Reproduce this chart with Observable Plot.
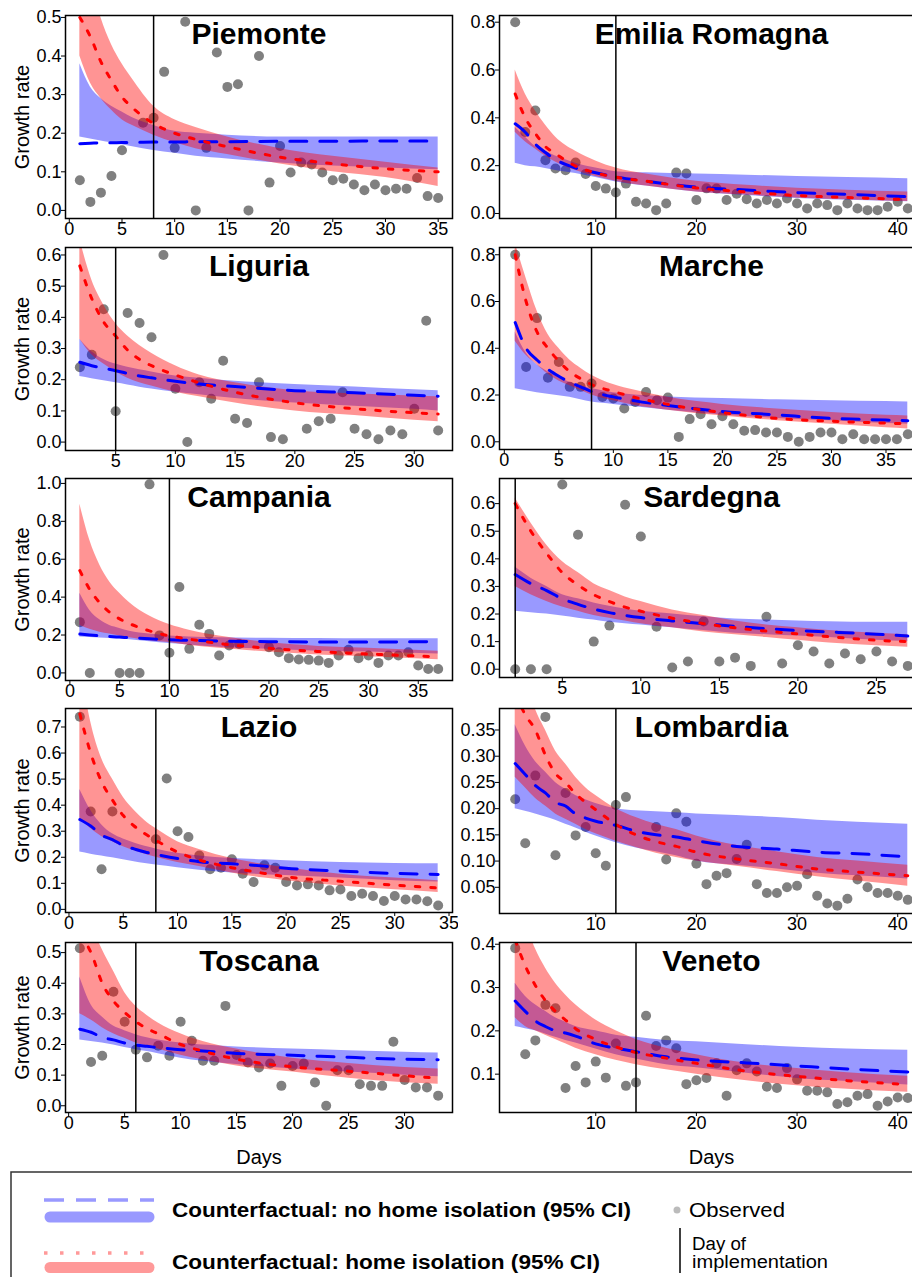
<!DOCTYPE html>
<html><head><meta charset="utf-8">
<script src="https://cdn.jsdelivr.net/npm/d3@7"></script>
<script src="https://cdn.jsdelivr.net/npm/@observablehq/plot@0.6"></script>
<style>
body{margin:0;background:#fff;}
#wrap{position:relative;width:912px;height:1277px;overflow:hidden;background:#fff;font-family:"Liberation Sans",Arial,sans-serif;}
#wrap > div{position:absolute;}
#wrap svg{max-width:none !important;}
</style></head><body><div id="wrap"></div><script>
// ---------------- DATA ----------------
// Piemonte
const piemonteObsDays = [1,2,3,4,5,7,8,9,10,11,12,13,14,15,16,17,18,19,20,21,22,23,24,25,26,27,28,29,30,31,32,33,34,35];
const piemonteObserved = [0.078,0.022,0.046,0.089,0.156,0.227,0.24,0.359,0.162,0.489,0.0,0.162,0.409,0.32,0.327,0.0,0.40,0.072,0.167,0.098,0.124,0.119,0.098,0.078,0.082,0.067,0.052,0.067,0.052,0.056,0.056,0.084,0.037,0.032];
const piemonteFitDays = [1,2,3,4,5,6,8,10,12,15,20,25,30,35];
const piemonteNoIso = [0.173,0.174,0.175,0.175,0.176,0.176,0.177,0.177,0.178,0.178,0.179,0.179,0.18,0.18];
const piemonteNoIsoLow = [0.19,0.185,0.18,0.175,0.17,0.165,0.155,0.148,0.14,0.133,0.123,0.115,0.11,0.105];
const piemonteNoIsoHigh = [0.38,0.32,0.29,0.27,0.255,0.24,0.22,0.205,0.2,0.195,0.19,0.19,0.19,0.19];
const piemonteIso = [0.5,0.45,0.385,0.337,0.294,0.266,0.225,0.2,0.184,0.165,0.138,0.121,0.108,0.1];
const piemonteIsoLow = [0.40,0.33,0.29,0.26,0.235,0.22,0.195,0.175,0.16,0.145,0.12,0.1,0.085,0.062];
const piemonteIsoHigh = [0.75,0.6,0.5,0.43,0.38,0.34,0.27,0.235,0.215,0.19,0.16,0.14,0.125,0.11];
const piemonteImpl = 8;
const piemonteXTicks = [0,5,10,15,20,25,30,35];
const piemonteYTicks = [0,0.1,0.2,0.3,0.4,0.5];

// Emilia Romagna
const emiliaObsDays = [2,3,4,5,6,7,8,9,10,11,12,13,14,15,16,17,18,19,20,21,22,23,24,25,26,27,28,29,30,31,32,33,34,35,36,37,38,39,40,41];
const emiliaObserved = [0.80,0.341,0.431,0.223,0.188,0.181,0.213,0.165,0.115,0.104,0.088,0.125,0.049,0.042,0.014,0.042,0.171,0.167,0.056,0.105,0.104,0.056,0.083,0.06,0.042,0.056,0.042,0.063,0.042,0.021,0.042,0.035,0.014,0.042,0.021,0.014,0.014,0.028,0.049,0.021];
const emiliaFitDays = [2,3,4,5,6,7,8,10,12,15,20,25,30,35,41];
const emiliaNoIso = [0.375,0.34,0.29,0.255,0.225,0.205,0.19,0.17,0.153,0.135,0.11,0.098,0.087,0.08,0.07];
const emiliaNoIsoLow = [0.21,0.2,0.195,0.188,0.18,0.173,0.167,0.15,0.132,0.115,0.09,0.075,0.063,0.055,0.049];
const emiliaNoIsoHigh = [0.36,0.32,0.28,0.26,0.24,0.225,0.21,0.19,0.175,0.17,0.165,0.16,0.155,0.15,0.145];
const emiliaIso = [0.5,0.4,0.335,0.28,0.25,0.222,0.198,0.17,0.152,0.135,0.107,0.09,0.075,0.067,0.058];
const emiliaIsoLow = [0.34,0.3,0.27,0.24,0.215,0.195,0.18,0.155,0.135,0.115,0.09,0.077,0.065,0.057,0.05];
const emiliaIsoHigh = [0.6,0.5,0.43,0.37,0.32,0.285,0.26,0.22,0.19,0.165,0.135,0.118,0.105,0.097,0.09];
const emiliaImpl = 12;
const emiliaXTicks = [10,20,30,40];
const emiliaYTicks = [0,0.2,0.4,0.6,0.8];

// Liguria
const liguriaObsDays = [2,3,4,5,6,7,8,9,10,11,12,13,14,15,16,17,18,19,21,22,23,24,25,26,27,28,29,30,31,32];
const liguriaObserved = [0.24,0.28,0.426,0.099,0.414,0.382,0.336,0.6,0.171,0.0,0.192,0.139,0.261,0.075,0.061,0.192,0.016,0.009,0.043,0.067,0.075,0.16,0.043,0.025,0.009,0.037,0.025,0.107,0.389,0.037];
const liguriaFitDays = [2,3,4,5,6,7,8,10,12,15,20,25,30,32];
const liguriaNoIso = [0.256,0.245,0.237,0.229,0.22,0.212,0.206,0.195,0.186,0.178,0.165,0.158,0.15,0.147];
const liguriaNoIsoLow = [0.21,0.203,0.197,0.19,0.183,0.176,0.17,0.16,0.152,0.14,0.125,0.115,0.105,0.1];
const liguriaNoIsoHigh = [0.33,0.29,0.265,0.25,0.24,0.232,0.225,0.212,0.205,0.195,0.185,0.177,0.168,0.165];
const liguriaIso = [0.565,0.46,0.385,0.34,0.295,0.265,0.245,0.215,0.19,0.16,0.126,0.107,0.094,0.09];
const liguriaIsoLow = [0.33,0.28,0.25,0.225,0.205,0.19,0.18,0.16,0.145,0.125,0.1,0.085,0.07,0.065];
const liguriaIsoHigh = [0.65,0.52,0.44,0.38,0.34,0.31,0.285,0.245,0.215,0.19,0.165,0.155,0.148,0.145];
const liguriaImpl = 5;
const liguriaXTicks = [5,10,15,20,25,30];
const liguriaYTicks = [0,0.1,0.2,0.3,0.4,0.5,0.6];

// Marche
const marcheObsDays = [1,2,3,4,5,6,7,8,9,10,11,12,13,14,15,16,17,18,19,20,21,22,23,24,25,26,27,28,29,30,31,32,33,34,35,36,37];
const marcheObserved = [0.80,0.32,0.529,0.274,0.341,0.235,0.235,0.249,0.192,0.185,0.142,0.17,0.213,0.178,0.189,0.021,0.097,0.118,0.075,0.109,0.075,0.047,0.05,0.04,0.04,0.021,0.0,0.021,0.04,0.04,0.011,0.032,0.011,0.011,0.011,0.011,0.032];
const marcheFitDays = [1,2,3,4,5,6,7,8,10,12,15,20,25,30,35,37];
const marcheNoIso = [0.51,0.4,0.35,0.31,0.28,0.255,0.235,0.215,0.192,0.175,0.155,0.13,0.115,0.1,0.093,0.09];
const marcheNoIsoLow = [0.227,0.218,0.21,0.203,0.197,0.19,0.18,0.17,0.16,0.15,0.135,0.115,0.1,0.09,0.078,0.075];
const marcheNoIsoHigh = [0.47,0.38,0.33,0.3,0.275,0.255,0.24,0.228,0.21,0.2,0.192,0.185,0.18,0.176,0.172,0.17];
const marcheIso = [0.8,0.6,0.47,0.4,0.345,0.3,0.27,0.245,0.215,0.19,0.16,0.125,0.1,0.088,0.08,0.077];
const marcheIsoLow = [0.43,0.37,0.33,0.29,0.26,0.24,0.22,0.2,0.175,0.155,0.135,0.11,0.09,0.075,0.06,0.055];
const marcheIsoHigh = [0.85,0.7,0.56,0.46,0.4,0.35,0.315,0.285,0.245,0.22,0.19,0.16,0.14,0.125,0.113,0.11];
const marcheImpl = 8;
const marcheXTicks = [0,5,10,15,20,25,30,35];
const marcheYTicks = [0,0.2,0.4,0.6,0.8];

// Campania
const campaniaObsDays = [1,2,5,6,7,8,9,10,11,12,13,14,15,16,17,20,21,22,23,24,25,26,27,28,29,30,31,32,33,34,35,36,37];
const campaniaObserved = [0.268,0.0,0.0,0.0,0.0,0.995,0.198,0.106,0.453,0.127,0.254,0.206,0.092,0.145,0.153,0.136,0.109,0.078,0.071,0.069,0.065,0.053,0.092,0.122,0.078,0.092,0.053,0.092,0.092,0.109,0.039,0.021,0.021];
const campaniaFitDays = [1,2,3,4,5,6,8,10,12,15,20,25,30,37];
const campaniaNoIso = [0.205,0.2,0.196,0.192,0.189,0.186,0.18,0.175,0.172,0.168,0.165,0.163,0.163,0.165];
const campaniaNoIsoLow = [0.19,0.187,0.184,0.182,0.18,0.175,0.165,0.155,0.147,0.135,0.125,0.115,0.11,0.1];
const campaniaNoIsoHigh = [0.42,0.33,0.28,0.25,0.235,0.22,0.205,0.195,0.19,0.185,0.183,0.181,0.18,0.18];
const campaniaIso = [0.54,0.44,0.37,0.32,0.285,0.26,0.222,0.195,0.178,0.155,0.13,0.113,0.1,0.085];
const campaniaIsoLow = [0.25,0.23,0.215,0.205,0.195,0.185,0.17,0.16,0.145,0.13,0.11,0.095,0.085,0.07];
const campaniaIsoHigh = [0.89,0.7,0.57,0.48,0.42,0.37,0.3,0.255,0.225,0.195,0.16,0.14,0.13,0.115];
const campaniaImpl = 10;
const campaniaXTicks = [0,5,10,15,20,25,30,35];
const campaniaYTicks = [0,0.2,0.4,0.6,0.8,1.0];

// Sardegna
const sardegnaObsDays = [2,3,4,5,6,7,8,9,10,11,12,13,14,15,16,17,18,19,20,21,22,23,24,25,26,27];
const sardegnaObserved = [0.0,0.0,0.0,0.669,0.487,0.1,0.158,0.596,0.481,0.154,0.006,0.028,0.173,0.028,0.042,0.012,0.19,0.021,0.087,0.064,0.021,0.057,0.036,0.064,0.028,0.012];
const sardegnaFitDays = [2,3,4,5,6,7,8,9,10,12,14,16,18,20,22,25,27];
const sardegnaNoIso = [0.343,0.31,0.285,0.255,0.235,0.218,0.205,0.195,0.187,0.175,0.165,0.155,0.147,0.14,0.135,0.127,0.12];
const sardegnaNoIsoLow = [0.21,0.205,0.2,0.193,0.185,0.178,0.17,0.165,0.16,0.15,0.14,0.13,0.125,0.12,0.115,0.105,0.1];
const sardegnaNoIsoHigh = [0.37,0.33,0.3,0.27,0.255,0.24,0.228,0.218,0.21,0.2,0.19,0.182,0.178,0.175,0.172,0.17,0.17];
const sardegnaIso = [0.6,0.5,0.42,0.35,0.305,0.27,0.245,0.225,0.21,0.185,0.165,0.15,0.138,0.128,0.118,0.105,0.1];
const sardegnaIsoLow = [0.3,0.27,0.245,0.225,0.21,0.195,0.185,0.175,0.165,0.15,0.135,0.125,0.115,0.105,0.095,0.085,0.08];
const sardegnaIsoHigh = [0.62,0.53,0.45,0.39,0.35,0.31,0.285,0.262,0.245,0.215,0.195,0.175,0.16,0.15,0.14,0.13,0.125];
const sardegnaImpl = 2;
const sardegnaXTicks = [5,10,15,20,25];
const sardegnaYTicks = [0,0.1,0.2,0.3,0.4,0.5,0.6];

// Lazio
const lazioObsDays = [1,2,3,4,8,9,10,11,12,13,14,15,16,17,18,19,20,21,22,23,24,25,26,27,28,29,30,31,32,33,34];
const lazioObserved = [0.739,0.376,0.154,0.376,0.269,0.502,0.3,0.278,0.207,0.154,0.16,0.192,0.137,0.105,0.169,0.16,0.105,0.092,0.096,0.092,0.073,0.076,0.051,0.06,0.051,0.032,0.051,0.038,0.038,0.031,0.015];
const lazioFitDays = [1,2,3,4,5,6,7,8,10,12,15,18,20,25,30,34];
const lazioNoIso = [0.345,0.32,0.285,0.268,0.245,0.232,0.22,0.211,0.195,0.183,0.175,0.166,0.158,0.147,0.138,0.134];
const lazioNoIsoLow = [0.22,0.212,0.205,0.198,0.19,0.183,0.176,0.17,0.16,0.15,0.14,0.133,0.13,0.12,0.11,0.105];
const lazioNoIsoHigh = [0.46,0.38,0.325,0.29,0.27,0.255,0.242,0.232,0.215,0.205,0.195,0.19,0.187,0.18,0.176,0.175];
const lazioIso = [0.75,0.6,0.49,0.42,0.36,0.32,0.29,0.265,0.22,0.19,0.16,0.138,0.125,0.108,0.093,0.082];
const lazioIsoLow = [0.35,0.31,0.28,0.26,0.24,0.225,0.212,0.2,0.18,0.165,0.14,0.12,0.11,0.09,0.075,0.065];
const lazioIsoHigh = [0.95,0.72,0.58,0.5,0.43,0.38,0.34,0.31,0.26,0.23,0.195,0.172,0.16,0.135,0.12,0.11];
const lazioImpl = 8;
const lazioXTicks = [0,5,10,15,20,25,30,35];
const lazioYTicks = [0,0.1,0.2,0.3,0.4,0.5,0.6,0.7];

// Lombardia
const lombardiaObsDays = [2,3,4,5,6,7,8,9,10,11,12,13,16,17,18,19,20,21,22,23,24,25,26,27,28,29,30,31,32,33,34,35,36,37,38,39,40,41];
const lombardiaObserved = [0.218,0.134,0.263,0.375,0.111,0.23,0.149,0.165,0.115,0.091,0.207,0.222,0.165,0.103,0.191,0.175,0.095,0.056,0.072,0.077,0.104,0.131,0.056,0.039,0.039,0.05,0.053,0.075,0.034,0.019,0.015,0.028,0.065,0.05,0.039,0.039,0.034,0.026];
const lombardiaFitDays = [2,3,4,5,6,7,8,9,10,12,14,16,18,20,24,28,32,36,41];
const lombardiaNoIso = [0.286,0.265,0.244,0.23,0.212,0.205,0.19,0.182,0.176,0.168,0.157,0.15,0.146,0.139,0.128,0.123,0.117,0.114,0.108];
const lombardiaNoIsoLow = [0.2,0.195,0.19,0.184,0.178,0.17,0.163,0.155,0.148,0.135,0.125,0.118,0.11,0.1,0.092,0.085,0.077,0.072,0.066];
const lombardiaNoIsoHigh = [0.36,0.32,0.29,0.27,0.25,0.237,0.225,0.217,0.21,0.2,0.196,0.194,0.192,0.19,0.187,0.183,0.178,0.174,0.17];
const lombardiaIso = [0.42,0.379,0.35,0.302,0.267,0.25,0.228,0.212,0.198,0.17,0.15,0.137,0.128,0.117,0.104,0.095,0.085,0.079,0.072];
const lombardiaIsoLow = [0.26,0.24,0.22,0.205,0.19,0.18,0.17,0.16,0.152,0.138,0.126,0.115,0.107,0.1,0.09,0.08,0.07,0.062,0.052];
const lombardiaIsoHigh = [0.55,0.45,0.39,0.35,0.31,0.285,0.26,0.24,0.225,0.2,0.183,0.17,0.16,0.148,0.13,0.118,0.107,0.1,0.092];
const lombardiaImpl = 12;
const lombardiaXTicks = [10,20,30,40];
const lombardiaYTicks = [0.05,0.1,0.15,0.2,0.25,0.3,0.35];

// Toscana
const toscanaObsDays = [1,2,3,4,5,6,7,8,9,10,11,12,13,14,15,16,17,18,19,20,21,22,23,24,25,26,27,28,29,30,31,32,33];
const toscanaObserved = [0.514,0.143,0.163,0.372,0.274,0.183,0.158,0.196,0.163,0.274,0.212,0.147,0.147,0.326,0.166,0.141,0.125,0.138,0.065,0.13,0.138,0.076,0.0,0.116,0.116,0.07,0.065,0.065,0.209,0.084,0.06,0.06,0.033];
const toscanaFitDays = [1,2,3,4,5,6,7,8,10,12,15,20,25,30,33];
const toscanaNoIso = [0.25,0.24,0.223,0.215,0.205,0.198,0.194,0.19,0.183,0.179,0.171,0.165,0.158,0.152,0.15];
const toscanaNoIsoLow = [0.215,0.21,0.205,0.198,0.19,0.183,0.177,0.17,0.155,0.145,0.135,0.12,0.11,0.1,0.095];
const toscanaNoIsoHigh = [0.42,0.33,0.29,0.26,0.245,0.232,0.222,0.215,0.205,0.198,0.192,0.185,0.18,0.175,0.172];
const toscanaIso = [0.56,0.5,0.4,0.342,0.305,0.275,0.252,0.235,0.2,0.178,0.152,0.127,0.113,0.098,0.09];
const toscanaIsoLow = [0.3,0.28,0.255,0.235,0.22,0.205,0.195,0.185,0.165,0.15,0.13,0.11,0.09,0.075,0.07];
const toscanaIsoHigh = [0.75,0.6,0.51,0.44,0.37,0.325,0.295,0.27,0.235,0.21,0.185,0.155,0.138,0.125,0.12];
const toscanaImpl = 6;
const toscanaXTicks = [0,5,10,15,20,25,30];
const toscanaYTicks = [0,0.1,0.2,0.3,0.4,0.5];

// Veneto
const venetoObsDays = [2,3,4,5,6,7,8,9,10,11,12,13,14,15,16,17,18,19,20,21,22,23,24,25,26,27,28,29,30,31,32,33,34,35,36,37,38,39,40,41];
const venetoObserved = [0.391,0.146,0.178,0.26,0.252,0.068,0.119,0.081,0.129,0.092,0.171,0.073,0.081,0.235,0.165,0.178,0.16,0.077,0.086,0.091,0.125,0.05,0.109,0.125,0.106,0.071,0.068,0.114,0.088,0.062,0.062,0.058,0.031,0.035,0.05,0.054,0.027,0.037,0.046,0.045];
const venetoFitDays = [2,3,4,5,6,7,8,10,12,14,17,20,25,30,35,41];
const venetoNoIso = [0.269,0.245,0.223,0.21,0.2,0.195,0.188,0.17,0.16,0.152,0.14,0.133,0.126,0.119,0.112,0.105];
const venetoNoIsoLow = [0.21,0.205,0.2,0.193,0.185,0.178,0.172,0.158,0.145,0.135,0.122,0.115,0.102,0.09,0.083,0.075];
const venetoNoIsoHigh = [0.31,0.28,0.26,0.245,0.23,0.22,0.21,0.2,0.19,0.185,0.178,0.175,0.168,0.162,0.158,0.155];
const venetoIso = [0.41,0.35,0.305,0.27,0.245,0.225,0.205,0.18,0.163,0.15,0.137,0.125,0.107,0.095,0.085,0.076];
const venetoIsoLow = [0.23,0.21,0.2,0.19,0.18,0.17,0.16,0.145,0.132,0.122,0.11,0.1,0.085,0.073,0.065,0.058];
const venetoIsoHigh = [0.5,0.45,0.39,0.345,0.31,0.283,0.26,0.225,0.2,0.18,0.16,0.145,0.125,0.113,0.103,0.095];
const venetoImpl = 14;
const venetoXTicks = [10,20,30,40];
const venetoYTicks = [0.1,0.2,0.3,0.4];

// ---------------- LAYOUT ----------------
const FONT = '"Liberation Sans", Arial, Helvetica, sans-serif';
const COLS = [
  {svgLeft: 0, width: 456, marginLeft: 65, marginRight: 4},
  {svgLeft: 456, width: 471, marginLeft: 43, marginRight: 4}
];
const panels = [
  {name:"Piemonte", col:0, top:15, bottom:218, xDomain:[-0.36,36.36], yDomain:[-0.021,0.505], fmt:".1f",
   obsDays:piemonteObsDays, obs:piemonteObserved, fitDays:piemonteFitDays, nm:piemonteNoIso, nl:piemonteNoIsoLow, nh:piemonteNoIsoHigh, im:piemonteIso, il:piemonteIsoLow, ih:piemonteIsoHigh, impl:piemonteImpl, xTicks:piemonteXTicks, yTicks:piemonteYTicks},
  {name:"Emilia Romagna", col:1, top:15, bottom:218, xDomain:[0.44,42.56], yDomain:[-0.021,0.828], fmt:".1f",
   obsDays:emiliaObsDays, obs:emiliaObserved, fitDays:emiliaFitDays, nm:emiliaNoIso, nl:emiliaNoIsoLow, nh:emiliaNoIsoHigh, im:emiliaIso, il:emiliaIsoLow, ih:emiliaIsoHigh, impl:emiliaImpl, xTicks:emiliaXTicks, yTicks:emiliaYTicks},
  {name:"Liguria", col:0, top:247, bottom:450, xDomain:[0.8,33.2], yDomain:[-0.027,0.624], fmt:".1f",
   obsDays:liguriaObsDays, obs:liguriaObserved, fitDays:liguriaFitDays, nm:liguriaNoIso, nl:liguriaNoIsoLow, nh:liguriaNoIsoHigh, im:liguriaIso, il:liguriaIsoLow, ih:liguriaIsoHigh, impl:liguriaImpl, xTicks:liguriaXTicks, yTicks:liguriaYTicks},
  {name:"Marche", col:1, top:247, bottom:449, xDomain:[-0.44,38.44], yDomain:[-0.033,0.831], fmt:".1f",
   obsDays:marcheObsDays, obs:marcheObserved, fitDays:marcheFitDays, nm:marcheNoIso, nl:marcheNoIsoLow, nh:marcheNoIsoHigh, im:marcheIso, il:marcheIsoLow, ih:marcheIsoHigh, impl:marcheImpl, xTicks:marcheXTicks, yTicks:marcheYTicks},
  {name:"Campania", col:0, top:478, bottom:680, xDomain:[-0.44,38.44], yDomain:[-0.04,1.026], fmt:".1f",
   obsDays:campaniaObsDays, obs:campaniaObserved, fitDays:campaniaFitDays, nm:campaniaNoIso, nl:campaniaNoIsoLow, nh:campaniaNoIsoHigh, im:campaniaIso, il:campaniaIsoLow, ih:campaniaIsoHigh, impl:campaniaImpl, xTicks:campaniaXTicks, yTicks:campaniaYTicks},
  {name:"Sardegna", col:1, top:478, bottom:677, xDomain:[1,28], yDomain:[-0.03,0.691], fmt:".1f",
   obsDays:sardegnaObsDays, obs:sardegnaObserved, fitDays:sardegnaFitDays, nm:sardegnaNoIso, nl:sardegnaNoIsoLow, nh:sardegnaNoIsoHigh, im:sardegnaIso, il:sardegnaIsoLow, ih:sardegnaIsoHigh, impl:sardegnaImpl, xTicks:sardegnaXTicks, yTicks:sardegnaYTicks},
  {name:"Lazio", col:0, top:708, bottom:912, xDomain:[-0.32,35.32], yDomain:[-0.012,0.771], fmt:".1f",
   obsDays:lazioObsDays, obs:lazioObserved, fitDays:lazioFitDays, nm:lazioNoIso, nl:lazioNoIsoLow, nh:lazioNoIsoHigh, im:lazioIso, il:lazioIsoLow, ih:lazioIsoHigh, impl:lazioImpl, xTicks:lazioXTicks, yTicks:lazioYTicks},
  {name:"Lombardia", col:1, top:708, bottom:913, xDomain:[0.44,42.56], yDomain:[0.0,0.391], fmt:".2f",
   obsDays:lombardiaObsDays, obs:lombardiaObserved, fitDays:lombardiaFitDays, nm:lombardiaNoIso, nl:lombardiaNoIsoLow, nh:lombardiaNoIsoHigh, im:lombardiaIso, il:lombardiaIsoLow, ih:lombardiaIsoHigh, impl:lombardiaImpl, xTicks:lombardiaXTicks, yTicks:lombardiaYTicks},
  {name:"Toscana", col:0, top:942, bottom:1112, xDomain:[-0.28,34.28], yDomain:[-0.022,0.533], fmt:".1f", days:true,
   obsDays:toscanaObsDays, obs:toscanaObserved, fitDays:toscanaFitDays, nm:toscanaNoIso, nl:toscanaNoIsoLow, nh:toscanaNoIsoHigh, im:toscanaIso, il:toscanaIsoLow, ih:toscanaIsoHigh, impl:toscanaImpl, xTicks:toscanaXTicks, yTicks:toscanaYTicks},
  {name:"Veneto", col:1, top:942, bottom:1112, xDomain:[0.44,42.56], yDomain:[0.0115,0.404], fmt:".1f", days:true,
   obsDays:venetoObsDays, obs:venetoObserved, fitDays:venetoFitDays, nm:venetoNoIso, nl:venetoNoIsoLow, nh:venetoNoIsoHigh, im:venetoIso, il:venetoIsoLow, ih:venetoIsoHigh, impl:venetoImpl, xTicks:venetoXTicks, yTicks:venetoYTicks}
];

const wrap = document.getElementById("wrap");

function drawPanel(p) {
  const col = COLS[p.col];
  const mt = 12, mb = p.days ? 64 : 28;
  const height = (p.bottom - p.top) + mt + mb;
  const obs = p.obsDays.map((d, i) => ({day: d, value: p.obs[i]}));
  const fit = p.fitDays.map((d, i) => ({day: d, nm: p.nm[i], nl: p.nl[i], nh: p.nh[i], im: p.im[i], il: p.il[i], ih: p.ih[i]}));
  const marks = [
    Plot.dot(obs, {x: "day", y: "value", r: 5, fill: "#808080", clip: true}),
    Plot.areaY(fit, {x: "day", y1: "nl", y2: "nh", fill: "#0000ff", fillOpacity: 0.4, curve: "monotone-x", clip: true}),
    Plot.areaY(fit, {x: "day", y1: "il", y2: "ih", fill: "#ff0000", fillOpacity: 0.42, curve: "monotone-x", clip: true}),
    Plot.line(fit, {x: "day", y: "nm", stroke: "#0000ff", strokeWidth: 3, strokeDasharray: "17,13", curve: "monotone-x", clip: true}),
    Plot.line(fit, {x: "day", y: "im", stroke: "#ff0000", strokeWidth: 3, strokeDasharray: "4.5,11", curve: "monotone-x", clip: true}),
    Plot.ruleX([p.impl], {stroke: "#000", strokeWidth: 1.5}),
    Plot.frame({stroke: "#000", strokeWidth: 1.5}),
    Plot.text([p.name], {frameAnchor: "top", dy: 19, lineAnchor: "middle", textAnchor: "middle", text: d => d, fontSize: 30, fontWeight: "bold", fill: "#000"})
  ];
  if (p.col === 0) {
    marks.push(Plot.text(["Growth rate"], {frameAnchor: "left", dx: -43, rotate: -90, textAnchor: "middle", lineAnchor: "middle", text: d => d, fontSize: 20, fill: "#000"}));
  }
  if (p.days) {
    marks.push(Plot.text(["Days"], {frameAnchor: "bottom", dy: 45, lineAnchor: "middle", textAnchor: "middle", text: d => d, fontSize: 20, fill: "#000"}));
  }
  const chart = Plot.plot({
    width: col.width,
    height,
    marginLeft: col.marginLeft,
    marginRight: col.marginRight,
    marginTop: mt,
    marginBottom: mb,
    style: {fontFamily: FONT, fontSize: "18px", color: "#000", background: "transparent", overflow: "visible", maxWidth: "none"},
    x: {domain: p.xDomain, ticks: p.xTicks, tickFormat: d3.format("d"), tickSize: 4, tickPadding: 0, label: null},
    y: {domain: p.yDomain, ticks: p.yTicks, tickFormat: d3.format(p.fmt), tickSize: 4, tickPadding: 0, label: null},
    marks
  });
  const div = document.createElement("div");
  div.style.left = col.svgLeft + "px";
  div.style.top = (p.top - mt) + "px";
  div.style.width = col.width + "px";
  div.style.height = height + "px";
  if (p.col === 0) { div.style.overflow = "hidden"; div.style.width = "458px"; }
  div.appendChild(chart);
  wrap.appendChild(div);
}
panels.forEach(drawPanel);

// ---------------- LEGEND ----------------
const legendItems = [
  {label: "Counterfactual: no home isolation (95% CI)", color: "#9999ff", dash: "20,12", lineY: 35, barY: 52, textY: 45, textLen: 459},
  {label: "Counterfactual: home isolation (95% CI)", color: "#ff9999", dash: "3.5,12.5", lineY: 88, barY: 102.5, textY: 97, textLen: 428}
];
const legDiv = document.createElement("div");
legDiv.style.left = "0px"; legDiv.style.top = "1165px";
wrap.appendChild(legDiv);
const leg = d3.select(legDiv).append("svg").attr("width", 912).attr("height", 112)
  .style("font-family", FONT).style("display", "block");
leg.append("rect").attr("x", 11).attr("y", 7).attr("width", 960).attr("height", 160)
  .attr("fill", "none").attr("stroke", "#333").attr("stroke-width", 1.5);
legendItems.forEach(it => {
  leg.append("line").attr("x1", 44).attr("x2", 154).attr("y1", it.lineY).attr("y2", it.lineY)
    .attr("stroke", it.color).attr("stroke-width", 3.5).attr("stroke-dasharray", it.dash);
  leg.append("line").attr("x1", 50).attr("x2", 149).attr("y1", it.barY).attr("y2", it.barY)
    .attr("stroke", it.color).attr("stroke-width", 11).attr("stroke-linecap", "round");
  leg.append("text").attr("x", 172).attr("y", it.textY).attr("dominant-baseline", "central")
    .attr("font-size", 20).attr("font-weight", "bold").attr("textLength", it.textLen)
    .attr("lengthAdjust", "spacingAndGlyphs").text(it.label);
});
leg.append("circle").attr("cx", 677).attr("cy", 45).attr("r", 3.5).attr("fill", "#bbbbbb");
leg.append("text").attr("x", 689).attr("y", 45).attr("dominant-baseline", "central")
  .attr("font-size", 20).attr("textLength", 96).attr("lengthAdjust", "spacingAndGlyphs").text("Observed");
leg.append("line").attr("x1", 680).attr("x2", 680).attr("y1", 63).attr("y2", 108)
  .attr("stroke", "#000").attr("stroke-width", 1.5);
leg.append("text").attr("x", 692).attr("y", 79).attr("dominant-baseline", "central")
  .attr("font-size", 18).attr("textLength", 54).attr("lengthAdjust", "spacingAndGlyphs").text("Day of");
leg.append("text").attr("x", 692).attr("y", 97).attr("dominant-baseline", "central")
  .attr("font-size", 18).attr("textLength", 136).attr("lengthAdjust", "spacingAndGlyphs").text("implementation");
</script></body></html>
